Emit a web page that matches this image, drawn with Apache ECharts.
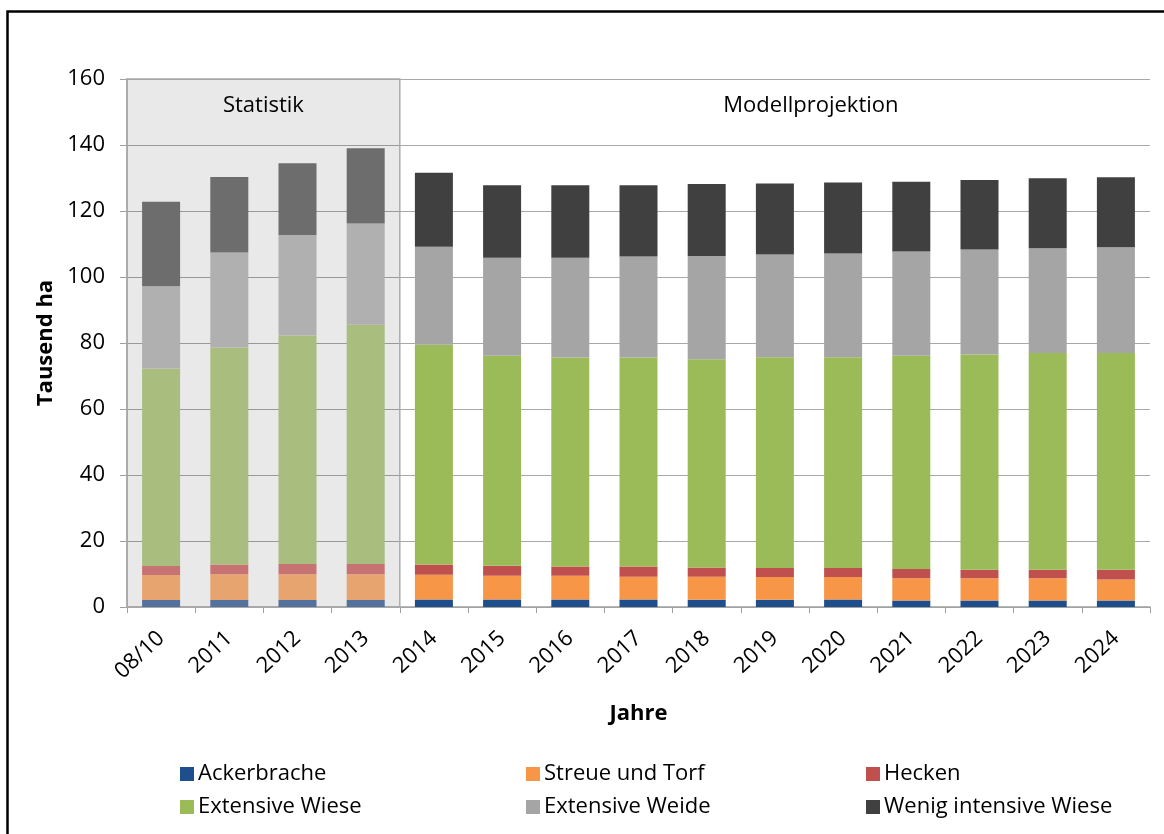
<!DOCTYPE html>
<html>
<head>
<meta charset="utf-8">
<script src="https://cdn.jsdelivr.net/npm/echarts@6/dist/echarts.min.js"></script>
<style>
html,body{margin:0;padding:0;background:#fff;}
#chart{width:1164px;height:834px;}
</style>
</head>
<body>
<div id="chart"></div>
<script>
const categories = ['08/10','2011','2012','2013','2014','2015','2016','2017','2018','2019','2020','2021','2022','2023','2024'];
const yTicks = [0,20,40,60,80,100,120,140,160];
const seriesNames = ['Ackerbrache','Streue und Torf','Hecken','Extensive Wiese','Extensive Weide','Wenig intensive Wiese'];
const ackerbrache = [2.1,2.1,2.1,2.1,2.3,2.3,2.3,2.3,2.2,2.2,2.3,2.0,2.0,2.0,2.0];
const streueUndTorf = [7.6,7.8,7.8,7.8,7.5,7.2,7.2,6.9,7.0,6.9,6.8,6.7,6.7,6.7,6.3];
const hecken = [2.7,3.0,3.1,3.1,3.1,3.0,2.8,3.1,2.8,2.7,2.7,2.8,2.6,2.6,3.0];
const extensiveWiese = [59.9,65.7,69.3,72.5,66.6,63.6,63.3,63.3,63.1,63.9,63.9,64.6,65.2,65.7,65.7];
const extensiveWeide = [24.9,28.8,30.4,30.7,29.7,29.7,30.2,30.6,31.3,31.1,31.4,31.6,31.8,31.7,32.0];
const wenigIntensiveWiese = [25.6,22.9,21.8,22.8,22.4,22.0,22.0,21.6,21.8,21.5,21.5,21.2,21.1,21.2,21.2];
const statistikCount = 4;
const regionLabels = ['Statistik','Modellprojektion'];

const values = [ackerbrache, streueUndTorf, hecken, extensiveWiese, extensiveWeide, wenigIntensiveWiese];
const colors = ['#1f4e8c','#f79646','#c0504d','#9bbb59','#a5a5a5','#404040'];
const fadedColors = ['#52719c','#e8a46e','#c87373','#a8bd7e','#b0b0b0','#6d6d6d'];
const FONT = 'Open Sans';
const FS = 22;
const yMin = yTicks[0], yMax = yTicks[yTicks.length - 1];

const barSeries = seriesNames.map((name, s) => ({
  name: name,
  type: 'bar',
  stack: 'total',
  barWidth: 38,
  z: 3,
  itemStyle: {color: colors[s]},
  data: values[s].map((v, i) => i < statistikCount ? {value: v, itemStyle: {color: fadedColors[s]}} : v)
}));

const regionData = [
  [-0.5, statistikCount - 0.5, 0],
  [statistikCount - 0.5, categories.length - 0.5, 1]
];
const regionSeries = {
  type: 'custom',
  xAxisIndex: 1,
  yAxisIndex: 0,
  z: 1,
  silent: true,
  encode: {x: [0, 1], y: -1},
  data: regionData,
  renderItem: function (params, api) {
    const x0 = api.value(0), x1 = api.value(1), idx = api.value(2);
    const p0 = api.coord([x0, yMax]);
    const p1 = api.coord([x1, yMin]);
    const children = [];
    if (idx === 0) {
      children.push({
        type: 'rect',
        shape: {x: p0[0], y: p0[1], width: p1[0] - p0[0], height: p1[1] - p0[1]},
        style: {fill: 'rgba(0,0,0,0.085)', stroke: '#ababab', lineWidth: 1.5}
      });
    }
    children.push({
      type: 'text',
      x: (p0[0] + p1[0]) / 2 + (idx === 0 ? 0 : 36),
      y: p0[1] + 16,
      style: {text: regionLabels[idx], fill: '#000', fontSize: FS, fontFamily: FONT, align: 'center', verticalAlign: 'top'}
    });
    return {type: 'group', children: children};
  }
};

const legendCols = [[0,3],[1,4],[2,5]];
const legendLefts = [175, 521, 861];
const legends = legendCols.map((col, c) => ({
  orient: 'vertical',
  left: legendLefts[c],
  top: 758,
  itemWidth: 14,
  itemHeight: 14,
  itemGap: 11,
  icon: 'rect',
  selectedMode: false,
  textStyle: {fontSize: FS, color: '#000', fontFamily: FONT, padding: [0,0,0,-1]},
  data: col.map(k => seriesNames[k])
}));

const chart = echarts.init(document.getElementById('chart'), null, {renderer: 'canvas'});
chart.setOption({
  animation: false,
  backgroundColor: '#fff',
  textStyle: {fontFamily: FONT},
  graphic: [{
    type: 'rect', left: 5, top: 9, shape: {width: 1300, height: 1000},
    style: {fill: 'none', stroke: '#000', lineWidth: 2.5}, silent: true, z: 100
  }],
  legend: legends,
  grid: {left: 127, right: 14, top: 79, bottom: 227, containLabel: false},
  xAxis: [{
    type: 'category',
    data: categories,
    name: 'Jahre',
    nameLocation: 'middle',
    nameGap: 96,
    nameTextStyle: {fontSize: FS, fontWeight: 'bold', color: '#000', fontFamily: FONT},
    axisLine: {onZero: false, lineStyle: {color: '#a0a0a0', width: 1.5}},
    axisTick: {show: true, interval: 0, length: 6, lineStyle: {color: '#a0a0a0'}},
    axisLabel: {rotate: 43, interval: 0, fontSize: FS, color: '#000', margin: 28, fontFamily: FONT}
  }, {
    type: 'value', min: -0.5, max: categories.length - 0.5, show: false
  }],
  yAxis: {
    type: 'value',
    min: yMin,
    max: yMax,
    interval: yTicks[1] - yTicks[0],
    name: 'Tausend ha',
    nameLocation: 'middle',
    nameGap: 68,
    nameTextStyle: {fontSize: FS, fontWeight: 'bold', color: '#000', fontFamily: FONT},
    axisLine: {show: true, onZero: false, lineStyle: {color: '#a0a0a0', width: 1.5}},
    axisTick: {show: true, length: 7, lineStyle: {color: '#a0a0a0'}},
    axisLabel: {fontSize: FS, color: '#000', margin: 22, fontFamily: FONT},
    splitLine: {lineStyle: {color: '#a8a8a8', width: 1.2}}
  },
  series: [regionSeries].concat(barSeries)
});
</script>
</body>
</html>
